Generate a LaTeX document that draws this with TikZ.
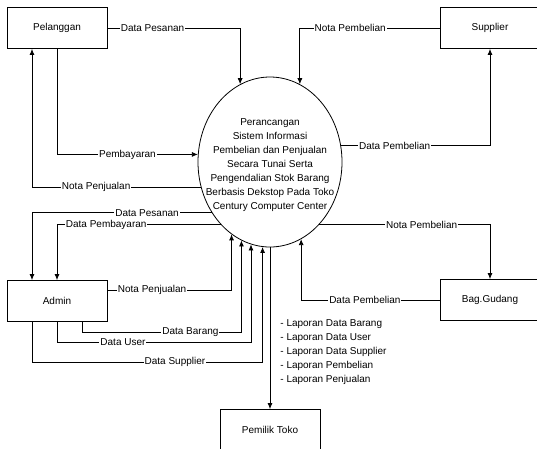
\documentclass[tikz,border=0pt]{standalone}
\usepackage{fontspec}
\setmainfont{Liberation Sans}
\usetikzlibrary{shapes.geometric, arrows.meta}

\begin{document}
\begin{tikzpicture}[x=1pt, y=-1pt, line width=0.8pt,
	flow/.style={-{Latex[length=6pt,width=5pt]}},
	lbl/.style={fill=white, inner sep=1pt, font=\fontsize{10}{12}\selectfont}]
	\useasboundingbox (0,0) rectangle (537,448);

	\begin{scope}[every node/.style={draw, fill=white, minimum width=100pt, minimum height=41pt, font=\fontsize{10}{12}\selectfont}]
		\node (pel) at (57,28) {Pelanggan};
		\node (sup) at (490,28) {Supplier};
		\node (adm) at (57,301) {Admin};
		\node (gud) at (490,300) {Bag.Gudang};
		\node (own) at (270,430) {Pemilik Toko};
	\end{scope}

	\node[ellipse, draw, minimum width=144pt, minimum height=170pt, inner sep=0pt] (ell) at (270,162) {};
	\node[align=center, inner sep=0pt, font=\fontsize{10}{14}\selectfont] (ttl) at (270,165)
		{Perancangan\\Sistem Informasi\\Pembelian dan Penjualan\\Secara Tunai Serta\\Pengendalian Stok Barang\\Berbasis Dekstop Pada Toko\\Century Computer Center};

	\begin{scope}
		\draw[flow] (pel.east) -| node[lbl, pos=0.17] {Data Pesanan} (ell.111);
		\draw[flow] (sup.west) -| node[lbl, pos=0.32] {Nota Pembelian} (ell.69);
		\draw[flow] (pel.south) |- node[lbl, pos=0.75] {Pembayaran} (ell.174);
		\draw[flow] (ell.200) -| node[lbl, pos=0.31] {Nota Penjualan} ([xshift=-25pt]pel.south);
		\draw[flow] (ell.13) -| node[lbl, pos=0.18] {Data Pembelian} (sup.south);

		\draw[flow] (ell.221) -| node[lbl, pos=0.18] {Data Pesanan} ([xshift=-25pt]adm.north);
		\draw[flow] (ell.232) -| node[lbl, pos=0.35] {Data Pembayaran} (adm.north);
		\draw[flow] ([yshift=11pt]adm.east) -| node[lbl, pos=0.18] {Nota Penjualan} (ell.242);
		\draw[flow] ([xshift=25pt]adm.south) -- ++(0,10) -| node[lbl, pos=0.34] {Data Barang} (ell.250);
		\draw[flow] (adm.south) -- ++(0,20) -| node[lbl, pos=0.17] {Data User} (ell.257);
		\draw[flow] ([xshift=-25pt]adm.south) -- ++(0,40) -| node[lbl, pos=0.31] {Data Supplier} (ell.265);

		\draw[flow] (ell.308) -| node[lbl, pos=0.3] {Nota Pembelian} (gud.north);
		\draw[flow] (gud.west) -| node[lbl, pos=0.27] {Data Pembelian} (ell.292);
		\draw[flow] (ell.south) -- (own.north);
	\end{scope}

	\node[anchor=north west, align=left, inner sep=0pt, font=\fontsize{10}{14}\selectfont] (lap) at (280,319)
		{- Laporan Data Barang\\- Laporan Data User\\- Laporan Data Supplier\\- Laporan Pembelian\\- Laporan Penjualan};
\end{tikzpicture}
\end{document}
